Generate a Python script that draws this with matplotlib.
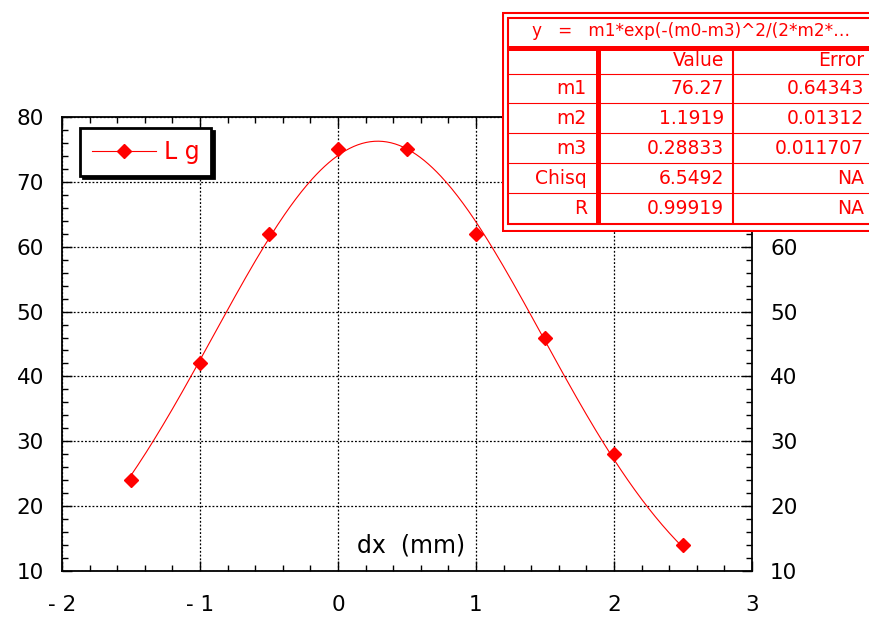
import numpy as np
import matplotlib
matplotlib.use("Agg")
import matplotlib.pyplot as plt
from matplotlib.ticker import MultipleLocator, FixedLocator, FixedFormatter
from matplotlib.patches import Rectangle

# ---- data ----
dx = [-1.5, -1.0, -0.5, 0.0, 0.5, 1.0, 1.5, 2.0, 2.5]
lg = [24, 42, 62, 75, 75, 62, 46, 28, 14]
series_name = "L g"
x_label = "dx  (mm)"
x_ticks = [-2, -1, 0, 1, 2, 3]
x_tick_labels = ["- 2", "- 1", "0", "1", "2", "3"]
y_ticks = [10, 20, 30, 40, 50, 60, 70, 80]

fit_formula = "y   =   m1*exp(-(m0-m3)^2/(2*m2*\u2026"
param_names = ["m1", "m2", "m3", "Chisq", "R"]
param_values = ["76.27", "1.1919", "0.28833", "6.5492", "0.99919"]
param_errors = ["0.64343", "0.01312", "0.011707", "NA", "NA"]
m1, m2, m3 = 76.27, 1.1919, 0.28833

RED = "#ff0000"
W, H = 869, 617
fig = plt.figure(figsize=(W / 100, H / 100), dpi=100)
plt.rcParams['font.family'] = ['DejaVu Sans']

ax = fig.add_axes([62 / W, 1 - 571 / H, 690 / W, 454 / H])
ax.set_xlim(-2, 3)
ax.set_ylim(10, 80)

# fitted curve
xf = np.linspace(min(dx), max(dx), 400)
yf = m1 * np.exp(-(xf - m3) ** 2 / (2 * m2 ** 2))
ax.plot(xf, yf, color=RED, lw=0.8, zorder=3)
ax.plot(dx, lg, linestyle="none", marker="D", ms=7, color=RED, zorder=4)
# legend proxy
ax.plot([], [], color=RED, lw=0.8, marker="D", ms=7, label=series_name)

ax.xaxis.set_major_locator(FixedLocator(x_ticks))
ax.xaxis.set_major_formatter(FixedFormatter(x_tick_labels))
ax.xaxis.set_minor_locator(MultipleLocator(0.2))
ax.yaxis.set_major_locator(FixedLocator(y_ticks))
ax.yaxis.set_minor_locator(MultipleLocator(2))

ax.grid(True, which="major", color="black", linestyle=(0, (1.5, 1.5)), lw=0.9)
for s in ax.spines.values():
    s.set_linewidth(1.3)
    s.set_color("black")

ax.tick_params(which="both", direction="in", top=True, right=True,
               labelright=True, colors="black", width=1.0)
ax.tick_params(which="major", length=7)
ax.tick_params(which="minor", length=4.5)
ax.tick_params(axis="y", labelsize=15.5, pad=13)
ax.tick_params(axis="x", labelsize=15.5, pad=17)

# right-side labels under the parameter table are hidden in the reference
for val, tk in zip(y_ticks, ax.yaxis.get_major_ticks()):
    if val >= 70:
        tk.label2.set_visible(False)

ax.text((411 - 62) / 690, (571 - 546) / 454, x_label, transform=ax.transAxes,
        ha="center", va="center", fontsize=17, color="black")

leg = ax.legend(loc="upper left", bbox_to_anchor=((80 - 62) / 690, (571 - 128) / 454),
                borderaxespad=0, fancybox=False, shadow={"color": "black", "alpha": 1},
                fontsize=17, handlelength=2.7, handletextpad=0.35,
                borderpad=0.5, labelcolor=RED, framealpha=1)
leg.get_frame().set_edgecolor("black")
leg.get_frame().set_linewidth(2.0)

# ---- parameter table ----
tax = fig.add_axes([502 / W, 1 - 232 / H, 367 / W, 221 / H], zorder=10)
tax.set_xlim(502, 869)
tax.set_ylim(232, 11)
tax.axis("off")
tax.add_patch(Rectangle((502, 11), 367, 221, facecolor="white", edgecolor="none"))

def hline(y, x0, x1, lw):
    tax.plot([x0, x1], [y, y], color=RED, lw=lw, solid_capstyle="butt")

def vline(x, y0, y1, lw):
    tax.plot([x, x], [y0, y1], color=RED, lw=lw, solid_capstyle="butt")

hline(12.5, 502, 869, 1.5)
vline(503, 12, 231, 1.5)
hline(230.5, 502, 869, 1.5)
hline(17.5, 507, 869, 1.5)
vline(507.5, 17, 224.5, 1.5)
hline(224, 507, 869, 1.5)
hline(47.5, 507, 869, 3.6)
vline(597.5, 47, 224, 3.6)
vline(733, 47, 224, 1.5)
row_edges = [74, 103, 133, 163, 193]
for ry in row_edges:
    hline(ry, 507, 869, 0.8)

fs = 13.5
tax.text(532, 31, fit_formula, ha="left", va="center", color=RED, fontsize=12.2)
tax.text(724, 61, "Value", ha="right", va="center", color=RED, fontsize=fs)
tax.text(864, 61, "Error", ha="right", va="center", color=RED, fontsize=fs)
row_centers = [89, 118, 148, 178, 208]
for yc, n, v, e in zip(row_centers, param_names, param_values, param_errors):
    tax.text(587, yc, n, ha="right", va="center", color=RED, fontsize=fs)
    tax.text(724, yc, v, ha="right", va="center", color=RED, fontsize=fs)
    tax.text(864, yc, e, ha="right", va="center", color=RED, fontsize=fs)

fig.savefig("out.png", dpi=100)
